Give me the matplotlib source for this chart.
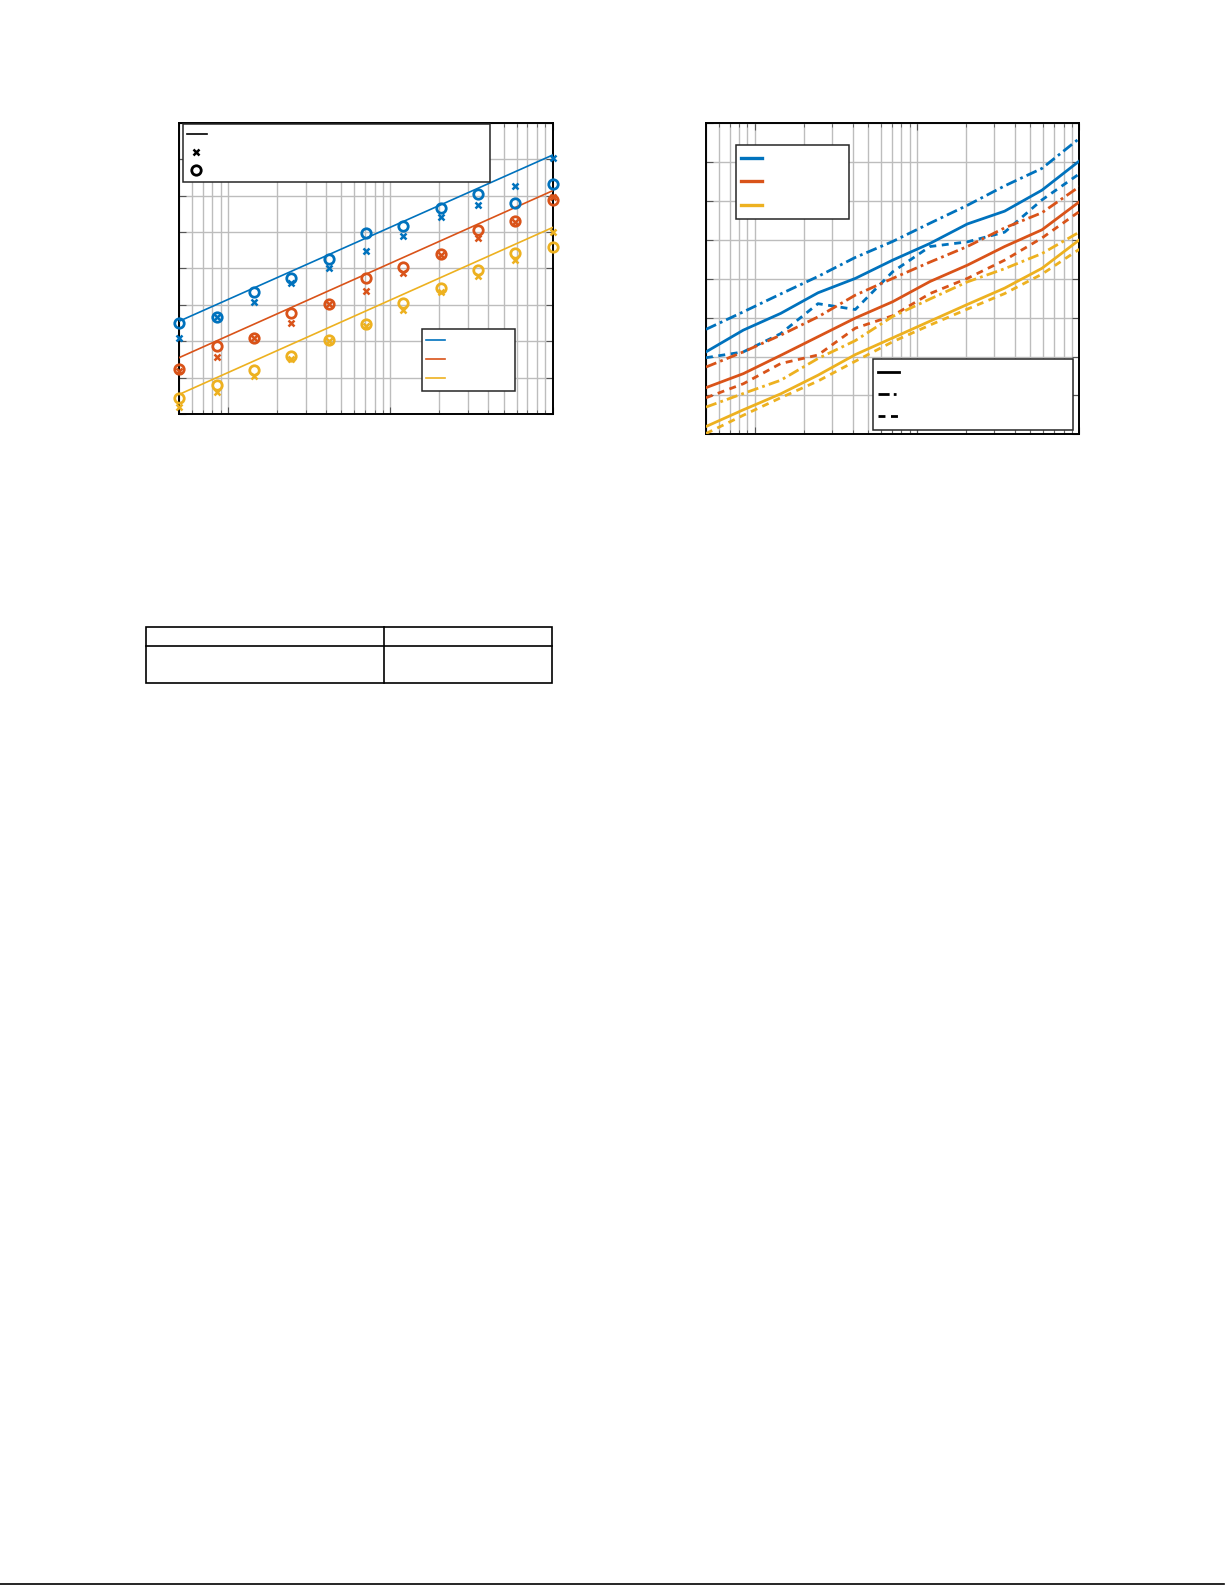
import numpy as np
import matplotlib
matplotlib.use("Agg")
import matplotlib.pyplot as plt
from matplotlib.patches import Rectangle
from matplotlib.lines import Line2D

# ---------------- data ----------------
x_pts = np.logspace(np.log10(5), 3, 11)
x_fit = [5, 1000]

# left panel: measured (x) and model (o) values, fitted lines
blue_o = [2.49, 2.67, 3.36, 3.73, 4.26, 4.96, 5.17, 5.67, 6.03, 5.79, 6.33]
blue_x = [2.09, 2.67, 3.08, 3.61, 4.00, 4.47, 4.88, 5.40, 5.74, 6.26, 7.04]
blue_fit = [2.55, 7.11]
orange_o = [1.24, 1.88, 2.10, 2.77, 3.02, 3.73, 4.05, 4.39, 5.06, 5.29, 5.88]
orange_x = [1.19, 1.57, 2.08, 2.51, 3.02, 3.39, 3.87, 4.37, 4.82, 5.27, 5.97]
orange_fit = [1.55, 6.13]
yellow_o = [0.44, 0.81, 1.20, 1.60, 2.03, 2.48, 3.06, 3.46, 3.95, 4.42, 4.60]
yellow_x = [0.18, 0.61, 1.03, 1.51, 2.00, 2.41, 2.85, 3.34, 3.78, 4.24, 5.00]
yellow_fit = [0.54, 5.12]

# right panel: three line styles per colour
blue_solid = [2.12, 2.68, 3.11, 3.64, 4.01, 4.48, 4.91, 5.41, 5.74, 6.28, 7.03]
blue_dashdot = [2.70, 3.15, 3.61, 4.06, 4.55, 4.96, 5.43, 5.89, 6.39, 6.84, 7.61]
blue_dashed = [1.97, 2.12, 2.59, 3.36, 3.21, 4.18, 4.83, 4.95, 5.20, 6.03, 6.70]
orange_solid = [1.20, 1.56, 2.03, 2.51, 2.99, 3.41, 3.93, 4.35, 4.83, 5.26, 5.98]
orange_dashdot = [1.73, 2.12, 2.55, 3.02, 3.58, 4.01, 4.43, 4.83, 5.31, 5.70, 6.37]
orange_dashed = [0.94, 1.30, 1.82, 2.04, 2.73, 3.05, 3.62, 4.01, 4.48, 5.05, 5.73]
yellow_solid = [0.20, 0.63, 1.04, 1.52, 2.05, 2.48, 2.91, 3.34, 3.76, 4.27, 5.00]
yellow_dashdot = [0.70, 1.05, 1.39, 1.95, 2.41, 3.03, 3.48, 3.92, 4.26, 4.65, 5.20]
yellow_dashed = [0.02, 0.49, 0.94, 1.37, 1.88, 2.38, 2.81, 3.22, 3.62, 4.12, 4.76]

C_BLUE, C_ORANGE, C_YELLOW = "#0072BD", "#D95319", "#EDB120"

W, H = 1225, 1585
fig = plt.figure(figsize=(W / 100, H / 100), dpi=100)


def rect(x0, y0, x1, y1):
    return [x0 / W, 1 - y1 / H, (x1 - x0) / W, (y1 - y0) / H]


def style_axes(ax):
    ax.set_xscale("log")
    ax.set_xlim(5, 1000)
    ax.set_ylim(0, 8)
    ax.set_yticks(np.arange(0, 9, 1))
    ax.grid(True, which="both", axis="x", color="#bdbdbd", lw=1.0)
    ax.grid(True, which="major", axis="y", color="#bdbdbd", lw=1.0)
    ax.set_axisbelow(True)
    ax.tick_params(which="both", direction="in", top=True, right=True,
                   labelbottom=False, labelleft=False, color="#555555")
    ax.tick_params(which="major", length=5)
    ax.tick_params(which="minor", length=3)
    for s in ax.spines.values():
        s.set_linewidth(1.4)
        s.set_color("black")


def legend_box(x0, y0, x1, y1, entries):
    fig.add_artist(Rectangle((x0 / W, 1 - y1 / H), (x1 - x0) / W, (y1 - y0) / H,
                             transform=fig.transFigure, facecolor="white",
                             edgecolor="#262626", lw=1.1, zorder=10))
    for kind, xa, xb, yy, kw in entries:
        if kind == "line":
            fig.add_artist(Line2D([xa / W, xb / W], [1 - yy / H, 1 - yy / H],
                                  transform=fig.transFigure, zorder=11, **kw))
        else:
            fig.add_artist(Line2D([xa / W], [1 - yy / H], transform=fig.transFigure,
                                  linestyle="none", zorder=11, **kw))


# ---------------- left panel ----------------
ax1 = fig.add_axes(rect(179.3, 122.7, 552.5, 414))
style_axes(ax1)
for col, yo, yx, yf in [(C_BLUE, blue_o, blue_x, blue_fit),
                        (C_ORANGE, orange_o, orange_x, orange_fit),
                        (C_YELLOW, yellow_o, yellow_x, yellow_fit)]:
    ax1.plot(x_fit, yf, color=col, lw=1.2, zorder=3)
    ax1.plot(x_pts, yx, linestyle="none", marker="x", color=col, ms=4.8, mew=1.8,
             zorder=4, clip_on=False)
    ax1.plot(x_pts, yo, linestyle="none", marker="o", mfc="none", mec=col, ms=6.8,
             mew=2.0, zorder=4, clip_on=False)

legend_box(183.3, 124.3, 490, 181.5, [
    ("line", 187.3, 206.7, 134, dict(color="black", lw=1.2)),
    ("mark", 195.7, None, 152.3, dict(marker="x", color="black", ms=4.8, mew=1.8)),
    ("mark", 195.7, None, 170.3, dict(marker="o", mfc="none", mec="black", ms=6.8, mew=2.0)),
])
legend_box(422.3, 329.3, 515.3, 391, [
    ("line", 426, 444.7, 340, dict(color=C_BLUE, lw=1.2)),
    ("line", 426, 444.7, 359, dict(color=C_ORANGE, lw=1.2)),
    ("line", 426, 444.7, 378.3, dict(color=C_YELLOW, lw=1.2)),
])

# ---------------- right panel ----------------
DASHDOT = (0, (4, 1.5, 1, 1.5))
DASHED = (0, (2.5, 2))
ax2 = fig.add_axes(rect(706, 123.3, 1079.3, 434.3))
style_axes(ax2)
for col, ys, yd, yk in [(C_BLUE, blue_solid, blue_dashdot, blue_dashed),
                        (C_ORANGE, orange_solid, orange_dashdot, orange_dashed),
                        (C_YELLOW, yellow_solid, yellow_dashdot, yellow_dashed)]:
    ax2.plot(x_pts, ys, color=col, lw=2.0, linestyle="-", zorder=3)
    ax2.plot(x_pts, yd, color=col, lw=2.0, linestyle=DASHDOT, zorder=3)
    ax2.plot(x_pts, yk, color=col, lw=2.0, linestyle=DASHED, zorder=3)

legend_box(736, 145, 849.3, 219.3, [
    ("line", 741, 762, 158.3, dict(color=C_BLUE, lw=2.4)),
    ("line", 741, 762, 180.7, dict(color=C_ORANGE, lw=2.4)),
    ("line", 741, 762, 205, dict(color=C_YELLOW, lw=2.4)),
])
legend_box(873.3, 359, 1072.7, 430, [
    ("line", 878, 898.5, 371.7, dict(color="black", lw=2.0, linestyle="-")),
    ("line", 878, 898.5, 393.7, dict(color="black", lw=2.0, linestyle=DASHDOT)),
    ("line", 878, 898.5, 416, dict(color="black", lw=2.0, linestyle=DASHED)),
])

# ---------------- empty table ----------------
tx0, tx1, tcol = 146, 551.7, 384.3
ty0, ty1, trow = 627.3, 683, 646.3
fig.add_artist(Rectangle((tx0 / W, 1 - ty1 / H), (tx1 - tx0) / W, (ty1 - ty0) / H,
                         transform=fig.transFigure, facecolor="none",
                         edgecolor="black", lw=1.2))
fig.add_artist(Line2D([tx0 / W, tx1 / W], [1 - trow / H] * 2,
                      transform=fig.transFigure, color="black", lw=1.2))
fig.add_artist(Line2D([tcol / W] * 2, [1 - ty0 / H, 1 - ty1 / H],
                      transform=fig.transFigure, color="black", lw=1.2))

# ---------------- page rule at bottom ----------------
fig.add_artist(Line2D([0, 1224 / W], [1 - 1583.5 / H] * 2,
                      transform=fig.transFigure, color="black", lw=1.2))

fig.savefig("out.png", dpi=100, facecolor="white")
